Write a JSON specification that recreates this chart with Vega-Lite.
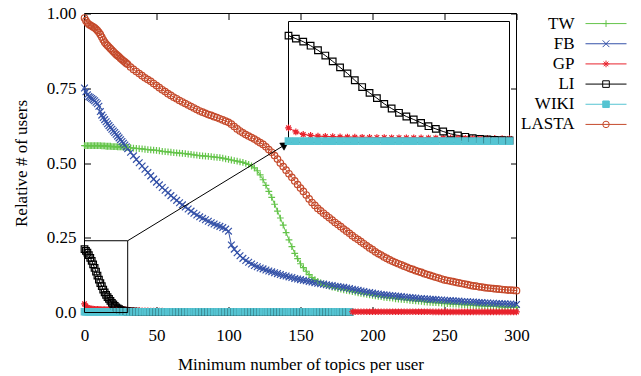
{
  "$schema": "https://vega.github.io/schema/vega-lite/v6.json",
  "padding": {"left": 12.5, "top": 4.5, "right": 0, "bottom": 0},
  "background": "white",
  "bounds": "flush",
  "config": {
    "font": "Liberation Serif",
    "view": {"stroke": null},
    "axis": {"labelFont": "Liberation Serif", "titleFont": "Liberation Serif", "labelFontSize": 17, "titleFontSize": 17, "titleFontWeight": "normal", "labelColor": "black", "titleColor": "black", "tickColor": "black", "grid": false, "domain": false, "tickSize": -6, "tickWidth": 1, "labelFlush": false},
    "concat": {"spacing": 0}
  },
  "datasets": {
    "curves": [
      {"x":0,"TW":0.558,"FB":0.751,"GP":0.029,"LI":0.212,"WIKI":0.0025,"LASTA":0.985},
      {"x":1,"TW":0.558,"FB":0.738,"GP":0.021,"LI":0.206,"WIKI":0.0025,"LASTA":0.976},
      {"x":2,"TW":0.558,"FB":0.728,"GP":0.016,"LI":0.200,"WIKI":0.0025,"LASTA":0.969},
      {"x":3,"TW":0.558,"FB":0.722,"GP":0.014,"LI":0.192,"WIKI":0.0025,"LASTA":0.964},
      {"x":4,"TW":0.558,"FB":0.719,"GP":0.0125,"LI":0.183,"WIKI":0.0025,"LASTA":0.961},
      {"x":5,"TW":0.558,"FB":0.716,"GP":0.012,"LI":0.1725,"WIKI":0.0025,"LASTA":0.958},
      {"x":6,"TW":0.558,"FB":0.712,"GP":0.0115,"LI":0.161,"WIKI":0.0025,"LASTA":0.955},
      {"x":7,"TW":0.558,"FB":0.708,"GP":0.011,"LI":0.149,"WIKI":0.0025,"LASTA":0.952},
      {"x":8,"TW":0.558,"FB":0.703,"GP":0.0108,"LI":0.137,"WIKI":0.0025,"LASTA":0.948},
      {"x":9,"TW":0.558,"FB":0.698,"GP":0.0105,"LI":0.1235,"WIKI":0.0025,"LASTA":0.943},
      {"x":10,"TW":0.558,"FB":0.690,"GP":0.0103,"LI":0.110,"WIKI":0.0025,"LASTA":0.937},
      {"x":11,"TW":0.558,"FB":0.672,"GP":0.0101,"LI":0.0985,"WIKI":0.0025,"LASTA":0.930},
      {"x":12,"TW":0.557,"FB":0.660,"GP":0.0099,"LI":0.088,"WIKI":0.0025,"LASTA":0.921},
      {"x":13,"TW":0.557,"FB":0.652,"GP":0.0097,"LI":0.0767,"WIKI":0.0025,"LASTA":0.912},
      {"x":14,"TW":0.557,"FB":0.645,"GP":0.0095,"LI":0.0674,"WIKI":0.0025,"LASTA":0.904},
      {"x":15,"TW":0.556,"FB":0.638,"GP":0.0094,"LI":0.0589,"WIKI":0.0025,"LASTA":0.898},
      {"x":16,"TW":0.556,"FB":0.631,"GP":0.0093,"LI":0.0516,"WIKI":0.0025,"LASTA":0.893},
      {"x":17,"TW":0.556,"FB":0.625,"GP":0.0092,"LI":0.0456,"WIKI":0.0025,"LASTA":0.888},
      {"x":18,"TW":0.556,"FB":0.619,"GP":0.0091,"LI":0.039,"WIKI":0.0025,"LASTA":0.883},
      {"x":19,"TW":0.555,"FB":0.613,"GP":0.009,"LI":0.0323,"WIKI":0.0025,"LASTA":0.878},
      {"x":20,"TW":0.555,"FB":0.607,"GP":0.0089,"LI":0.027,"WIKI":0.0025,"LASTA":0.873},
      {"x":21,"TW":0.555,"FB":0.602,"GP":0.0088,"LI":0.0218,"WIKI":0.0025,"LASTA":0.868},
      {"x":22,"TW":0.555,"FB":0.596,"GP":0.0087,"LI":0.0172,"WIKI":0.0025,"LASTA":0.863},
      {"x":23,"TW":0.554,"FB":0.590,"GP":0.0086,"LI":0.0139,"WIKI":0.0025,"LASTA":0.859},
      {"x":24,"TW":0.554,"FB":0.584,"GP":0.0085,"LI":0.0113,"WIKI":0.0025,"LASTA":0.855},
      {"x":25,"TW":0.554,"FB":0.578,"GP":0.0084,"LI":0.0086,"WIKI":0.0025,"LASTA":0.850},
      {"x":26,"TW":0.554,"FB":0.572,"GP":0.0083,"LI":0.0073,"WIKI":0.0025,"LASTA":0.846},
      {"x":27,"TW":0.553,"FB":0.566,"GP":0.0082,"LI":0.006,"WIKI":0.0025,"LASTA":0.842},
      {"x":28,"TW":0.553,"FB":0.560,"GP":0.0081,"LI":0.0053,"WIKI":0.0025,"LASTA":0.838},
      {"x":29,"TW":0.552,"FB":0.554,"GP":0.008,"LI":0.0046,"WIKI":0.0025,"LASTA":0.834},
      {"x":30,"TW":0.552,"FB":0.548,"GP":0.0079,"LI":0.004,"WIKI":0.0025,"LASTA":0.830},
      {"x":32,"TW":0.551,"FB":0.536,"GP":0.0075,"LI":0.0035,"WIKI":0.002,"LASTA":0.821},
      {"x":34,"TW":0.550,"FB":0.524,"GP":0.007,"LI":0.003,"WIKI":0.002,"LASTA":0.813},
      {"x":36,"TW":0.549,"FB":0.512,"GP":0.0066,"LI":0.0025,"WIKI":0.002,"LASTA":0.806},
      {"x":38,"TW":0.548,"FB":0.501,"GP":0.0062,"LI":0.002,"WIKI":0.002,"LASTA":0.799},
      {"x":40,"TW":0.547,"FB":0.490,"GP":0.0058,"LI":0.0015,"WIKI":0.002,"LASTA":0.792},
      {"x":42,"TW":0.546,"FB":0.479,"GP":0.0055,"LI":0.0015,"WIKI":0.002,"LASTA":0.785},
      {"x":44,"TW":0.545,"FB":0.468,"GP":0.0052,"LI":0.0015,"WIKI":0.002,"LASTA":0.779},
      {"x":46,"TW":0.544,"FB":0.457,"GP":0.005,"LI":0.0015,"WIKI":0.002,"LASTA":0.773},
      {"x":48,"TW":0.543,"FB":0.446,"GP":0.0048,"LI":0.0015,"WIKI":0.002,"LASTA":0.766},
      {"x":50,"TW":0.542,"FB":0.436,"GP":0.0046,"LI":0.0015,"WIKI":0.002,"LASTA":0.759},
      {"x":52,"TW":0.541,"FB":0.427,"GP":0.0045,"LI":0.001,"WIKI":0.002,"LASTA":0.752},
      {"x":54,"TW":0.539,"FB":0.418,"GP":0.0044,"LI":0.001,"WIKI":0.002,"LASTA":0.745},
      {"x":56,"TW":0.538,"FB":0.409,"GP":0.0043,"LI":0.001,"WIKI":0.002,"LASTA":0.739},
      {"x":58,"TW":0.537,"FB":0.400,"GP":0.0042,"LI":0.001,"WIKI":0.002,"LASTA":0.732},
      {"x":60,"TW":0.536,"FB":0.391,"GP":0.0041,"LI":0.001,"WIKI":0.002,"LASTA":0.726},
      {"x":62,"TW":0.535,"FB":0.383,"GP":0.004,"LI":0.001,"WIKI":0.002,"LASTA":0.720},
      {"x":64,"TW":0.534,"FB":0.375,"GP":0.004,"LI":0.001,"WIKI":0.002,"LASTA":0.715},
      {"x":66,"TW":0.533,"FB":0.367,"GP":0.004,"LI":0.001,"WIKI":0.002,"LASTA":0.709},
      {"x":68,"TW":0.532,"FB":0.360,"GP":0.004,"LI":0.001,"WIKI":0.002,"LASTA":0.704},
      {"x":70,"TW":0.531,"FB":0.353,"GP":0.004,"LI":0.001,"WIKI":0.002,"LASTA":0.699},
      {"x":72,"TW":0.530,"FB":0.346,"GP":0.004,"LI":0.001,"WIKI":0.002,"LASTA":0.694},
      {"x":74,"TW":0.529,"FB":0.339,"GP":0.004,"LI":0.001,"WIKI":0.002,"LASTA":0.689},
      {"x":76,"TW":0.527,"FB":0.332,"GP":0.004,"LI":0.001,"WIKI":0.002,"LASTA":0.684},
      {"x":78,"TW":0.526,"FB":0.326,"GP":0.004,"LI":0.001,"WIKI":0.002,"LASTA":0.679},
      {"x":80,"TW":0.525,"FB":0.320,"GP":0.004,"LI":0.001,"WIKI":0.002,"LASTA":0.674},
      {"x":82,"TW":0.524,"FB":0.315,"GP":0.0035,"LI":0.001,"WIKI":0.002,"LASTA":0.670},
      {"x":84,"TW":0.523,"FB":0.310,"GP":0.0035,"LI":0.001,"WIKI":0.002,"LASTA":0.666},
      {"x":86,"TW":0.522,"FB":0.305,"GP":0.0035,"LI":0.001,"WIKI":0.002,"LASTA":0.662},
      {"x":88,"TW":0.521,"FB":0.300,"GP":0.0035,"LI":0.001,"WIKI":0.002,"LASTA":0.659},
      {"x":90,"TW":0.520,"FB":0.296,"GP":0.0035,"LI":0.001,"WIKI":0.002,"LASTA":0.655},
      {"x":92,"TW":0.519,"FB":0.292,"GP":0.0035,"LI":0.001,"WIKI":0.002,"LASTA":0.652},
      {"x":94,"TW":0.518,"FB":0.288,"GP":0.0035,"LI":0.001,"WIKI":0.002,"LASTA":0.648},
      {"x":96,"TW":0.516,"FB":0.284,"GP":0.0035,"LI":0.001,"WIKI":0.002,"LASTA":0.644},
      {"x":98,"TW":0.514,"FB":0.279,"GP":0.0035,"LI":0.001,"WIKI":0.002,"LASTA":0.640},
      {"x":100,"TW":0.512,"FB":0.272,"GP":0.0035,"LI":0.001,"WIKI":0.002,"LASTA":0.636},
      {"x":102,"TW":0.510,"FB":0.226,"GP":0.0035,"LI":0.001,"WIKI":0.002,"LASTA":0.630},
      {"x":104,"TW":0.508,"FB":0.212,"GP":0.0035,"LI":0.001,"WIKI":0.002,"LASTA":0.622},
      {"x":106,"TW":0.506,"FB":0.200,"GP":0.0035,"LI":0.001,"WIKI":0.002,"LASTA":0.614},
      {"x":108,"TW":0.504,"FB":0.190,"GP":0.0035,"LI":0.001,"WIKI":0.002,"LASTA":0.607},
      {"x":110,"TW":0.502,"FB":0.181,"GP":0.0035,"LI":0.001,"WIKI":0.002,"LASTA":0.601},
      {"x":112,"TW":0.499,"FB":0.174,"GP":0.0035,"LI":0.001,"WIKI":0.002,"LASTA":0.595},
      {"x":114,"TW":0.495,"FB":0.168,"GP":0.0035,"LI":0.001,"WIKI":0.002,"LASTA":0.590},
      {"x":116,"TW":0.490,"FB":0.162,"GP":0.0035,"LI":0.001,"WIKI":0.002,"LASTA":0.585},
      {"x":118,"TW":0.484,"FB":0.157,"GP":0.0035,"LI":0.001,"WIKI":0.002,"LASTA":0.580},
      {"x":120,"TW":0.474,"FB":0.153,"GP":0.0035,"LI":0.001,"WIKI":0.002,"LASTA":0.574},
      {"x":122,"TW":0.460,"FB":0.149,"GP":0.003,"LI":0.001,"WIKI":0.002,"LASTA":0.568},
      {"x":124,"TW":0.444,"FB":0.146,"GP":0.003,"LI":0.001,"WIKI":0.002,"LASTA":0.562},
      {"x":126,"TW":0.425,"FB":0.142,"GP":0.003,"LI":0.001,"WIKI":0.002,"LASTA":0.554},
      {"x":128,"TW":0.405,"FB":0.139,"GP":0.003,"LI":0.001,"WIKI":0.002,"LASTA":0.545},
      {"x":130,"TW":0.385,"FB":0.136,"GP":0.003,"LI":0.001,"WIKI":0.002,"LASTA":0.536},
      {"x":132,"TW":0.362,"FB":0.133,"GP":0.003,"LI":0.001,"WIKI":0.002,"LASTA":0.525},
      {"x":134,"TW":0.339,"FB":0.130,"GP":0.003,"LI":0.001,"WIKI":0.002,"LASTA":0.513},
      {"x":136,"TW":0.316,"FB":0.127,"GP":0.003,"LI":0.001,"WIKI":0.002,"LASTA":0.500},
      {"x":138,"TW":0.292,"FB":0.124,"GP":0.003,"LI":0.001,"WIKI":0.002,"LASTA":0.488},
      {"x":140,"TW":0.267,"FB":0.122,"GP":0.003,"LI":0.001,"WIKI":0.002,"LASTA":0.476},
      {"x":142,"TW":0.243,"FB":0.119,"GP":0.003,"LI":0.001,"WIKI":0.002,"LASTA":0.464},
      {"x":144,"TW":0.220,"FB":0.117,"GP":0.003,"LI":0.001,"WIKI":0.002,"LASTA":0.452},
      {"x":146,"TW":0.198,"FB":0.114,"GP":0.003,"LI":0.001,"WIKI":0.002,"LASTA":0.440},
      {"x":148,"TW":0.180,"FB":0.112,"GP":0.003,"LI":0.001,"WIKI":0.002,"LASTA":0.428},
      {"x":150,"TW":0.163,"FB":0.110,"GP":0.003,"LI":0.001,"WIKI":0.002,"LASTA":0.416},
      {"x":152,"TW":0.150,"FB":0.108,"GP":0.003,"LI":0.001,"WIKI":0.002,"LASTA":0.405},
      {"x":154,"TW":0.138,"FB":0.106,"GP":0.003,"LI":0.001,"WIKI":0.002,"LASTA":0.393},
      {"x":156,"TW":0.127,"FB":0.104,"GP":0.003,"LI":0.001,"WIKI":0.002,"LASTA":0.380},
      {"x":158,"TW":0.117,"FB":0.102,"GP":0.003,"LI":0.001,"WIKI":0.002,"LASTA":0.368},
      {"x":160,"TW":0.110,"FB":0.100,"GP":0.003,"LI":0.001,"WIKI":0.002,"LASTA":0.358},
      {"x":162,"TW":0.104,"FB":0.098,"GP":0.003,"LI":0.001,"WIKI":0.002,"LASTA":0.348},
      {"x":164,"TW":0.099,"FB":0.096,"GP":0.003,"LI":0.001,"WIKI":0.002,"LASTA":0.340},
      {"x":166,"TW":0.095,"FB":0.095,"GP":0.003,"LI":0.001,"WIKI":0.002,"LASTA":0.332},
      {"x":168,"TW":0.091,"FB":0.093,"GP":0.003,"LI":0.001,"WIKI":0.002,"LASTA":0.324},
      {"x":170,"TW":0.088,"FB":0.091,"GP":0.003,"LI":0.001,"WIKI":0.002,"LASTA":0.317},
      {"x":172,"TW":0.085,"FB":0.090,"GP":0.003,"LI":0.001,"WIKI":0.002,"LASTA":0.309},
      {"x":174,"TW":0.083,"FB":0.088,"GP":0.003,"LI":0.001,"WIKI":0.002,"LASTA":0.301},
      {"x":176,"TW":0.080,"FB":0.087,"GP":0.003,"LI":0.001,"WIKI":0.002,"LASTA":0.294},
      {"x":178,"TW":0.078,"FB":0.085,"GP":0.003,"LI":0.001,"WIKI":0.002,"LASTA":0.287},
      {"x":180,"TW":0.076,"FB":0.084,"GP":0.003,"LI":0.001,"WIKI":0.002,"LASTA":0.279},
      {"x":182,"TW":0.074,"FB":0.082,"GP":0.0025,"LI":0.001,"WIKI":0.002,"LASTA":0.272},
      {"x":184,"TW":0.072,"FB":0.080,"GP":0.0025,"LI":0.001,"WIKI":0.002,"LASTA":0.265},
      {"x":186,"TW":0.070,"FB":0.078,"GP":0.0025,"LASTA":0.257},
      {"x":188,"TW":0.068,"FB":0.076,"GP":0.0025,"LASTA":0.250},
      {"x":190,"TW":0.066,"FB":0.074,"GP":0.0025,"LASTA":0.244},
      {"x":192,"TW":0.064,"FB":0.072,"GP":0.0025,"LASTA":0.237},
      {"x":194,"TW":0.062,"FB":0.070,"GP":0.0025,"LASTA":0.230},
      {"x":196,"TW":0.061,"FB":0.068,"GP":0.0025,"LASTA":0.223},
      {"x":198,"TW":0.059,"FB":0.067,"GP":0.0025,"LASTA":0.216},
      {"x":200,"TW":0.057,"FB":0.065,"GP":0.0025,"LASTA":0.210},
      {"x":202,"TW":0.056,"FB":0.063,"GP":0.0025,"LASTA":0.203},
      {"x":204,"TW":0.054,"FB":0.062,"GP":0.0025,"LASTA":0.197},
      {"x":206,"TW":0.053,"FB":0.060,"GP":0.0025,"LASTA":0.192},
      {"x":208,"TW":0.051,"FB":0.059,"GP":0.0025,"LASTA":0.186},
      {"x":210,"TW":0.050,"FB":0.058,"GP":0.0025,"LASTA":0.181},
      {"x":212,"TW":0.049,"FB":0.057,"GP":0.0025,"LASTA":0.176},
      {"x":214,"TW":0.048,"FB":0.056,"GP":0.0025,"LASTA":0.171},
      {"x":216,"TW":0.046,"FB":0.055,"GP":0.0025,"LASTA":0.167},
      {"x":218,"TW":0.045,"FB":0.054,"GP":0.0025,"LASTA":0.163},
      {"x":220,"TW":0.044,"FB":0.053,"GP":0.0025,"LASTA":0.159},
      {"x":222,"TW":0.043,"FB":0.052,"GP":0.0025,"LASTA":0.155},
      {"x":224,"TW":0.042,"FB":0.051,"GP":0.0025,"LASTA":0.151},
      {"x":226,"TW":0.041,"FB":0.050,"GP":0.0025,"LASTA":0.147},
      {"x":228,"TW":0.040,"FB":0.049,"GP":0.0025,"LASTA":0.144},
      {"x":230,"TW":0.039,"FB":0.048,"GP":0.0025,"LASTA":0.140},
      {"x":232,"TW":0.038,"FB":0.047,"GP":0.0025,"LASTA":0.137},
      {"x":234,"TW":0.037,"FB":0.047,"GP":0.0025,"LASTA":0.134},
      {"x":236,"TW":0.036,"FB":0.046,"GP":0.0025,"LASTA":0.130},
      {"x":238,"TW":0.035,"FB":0.045,"GP":0.0025,"LASTA":0.127},
      {"x":240,"TW":0.034,"FB":0.044,"GP":0.0025,"LASTA":0.124},
      {"x":242,"TW":0.033,"FB":0.044,"GP":0.002,"LASTA":0.121},
      {"x":244,"TW":0.033,"FB":0.043,"GP":0.002,"LASTA":0.118},
      {"x":246,"TW":0.032,"FB":0.042,"GP":0.002,"LASTA":0.115},
      {"x":248,"TW":0.031,"FB":0.042,"GP":0.002,"LASTA":0.112},
      {"x":250,"TW":0.030,"FB":0.041,"GP":0.002,"LASTA":0.109},
      {"x":252,"TW":0.030,"FB":0.040,"GP":0.002,"LASTA":0.107},
      {"x":254,"TW":0.029,"FB":0.040,"GP":0.002,"LASTA":0.105},
      {"x":256,"TW":0.028,"FB":0.039,"GP":0.002,"LASTA":0.103},
      {"x":258,"TW":0.028,"FB":0.038,"GP":0.002,"LASTA":0.101},
      {"x":260,"TW":0.027,"FB":0.038,"GP":0.002,"LASTA":0.099},
      {"x":262,"TW":0.026,"FB":0.037,"GP":0.002,"LASTA":0.097},
      {"x":264,"TW":0.026,"FB":0.036,"GP":0.002,"LASTA":0.095},
      {"x":266,"TW":0.025,"FB":0.036,"GP":0.002,"LASTA":0.093},
      {"x":268,"TW":0.025,"FB":0.035,"GP":0.002,"LASTA":0.091},
      {"x":270,"TW":0.024,"FB":0.035,"GP":0.002,"LASTA":0.089},
      {"x":272,"TW":0.023,"FB":0.034,"GP":0.002,"LASTA":0.088},
      {"x":274,"TW":0.023,"FB":0.033,"GP":0.002,"LASTA":0.086},
      {"x":276,"TW":0.022,"FB":0.033,"GP":0.002,"LASTA":0.085},
      {"x":278,"TW":0.022,"FB":0.032,"GP":0.002,"LASTA":0.083},
      {"x":280,"TW":0.021,"FB":0.032,"GP":0.002,"LASTA":0.082},
      {"x":282,"TW":0.021,"FB":0.031,"GP":0.002,"LASTA":0.081},
      {"x":284,"TW":0.020,"FB":0.031,"GP":0.002,"LASTA":0.080},
      {"x":286,"TW":0.020,"FB":0.030,"GP":0.002,"LASTA":0.079},
      {"x":288,"TW":0.019,"FB":0.030,"GP":0.002,"LASTA":0.078},
      {"x":290,"TW":0.019,"FB":0.029,"GP":0.002,"LASTA":0.077},
      {"x":292,"TW":0.018,"FB":0.029,"GP":0.002,"LASTA":0.076},
      {"x":294,"TW":0.018,"FB":0.028,"GP":0.002,"LASTA":0.075},
      {"x":296,"TW":0.018,"FB":0.028,"GP":0.002,"LASTA":0.075},
      {"x":298,"TW":0.017,"FB":0.027,"GP":0.002,"LASTA":0.074},
      {"x":300,"TW":0.017,"FB":0.027,"GP":0.002,"LASTA":0.073}
    ],
    "series": [
      {"key": "TW"}, {"key": "FB"}, {"key": "GP"}, {"key": "LI"}, {"key": "WIKI"}, {"key": "LASTA"}
    ]
  },
  "hconcat": [
    {
      "width": 432,
      "height": 299,
      "layer": [
        {
          "layer": [
            {
              "data": {"values": [{}]},
              "mark": {"type": "rect", "fill": "transparent", "stroke": "black", "strokeWidth": 1},
              "encoding": {
                "x": {"datum": 0, "type": "quantitative", "scale": {"domain": [0, 300], "nice": false, "zero": false}, "axis": {"orient": "top", "values": [0, 50, 100, 150, 200, 250, 300], "labels": false, "title": null}},
                "x2": {"datum": 300},
                "y": {"datum": 0, "type": "quantitative", "scale": {"domain": [0, 1], "nice": false}, "axis": {"orient": "right", "values": [0, 0.25, 0.5, 0.75, 1], "labels": false, "title": null}},
                "y2": {"datum": 1}
              }
            },
            {
              "data": {"name": "curves"},
              "transform": [
                {"fold": ["TW", "FB", "GP", "LI", "WIKI", "LASTA"], "as": ["key", "value"]},
                {"filter": "isValid(datum.value)"}
              ],
              "encoding": {
                "x": {"field": "x", "type": "quantitative", "scale": {"domain": [0, 300], "nice": false, "zero": false},
                      "axis": {"orient": "bottom", "values": [0, 50, 100, 150, 200, 250, 300], "format": "d", "labelPadding": 21, "title": "Minimum number of topics per user", "titlePadding": 13}},
                "y": {"field": "value", "type": "quantitative", "scale": {"domain": [0, 1], "nice": false},
                      "axis": {"orient": "left", "values": [0, 0.25, 0.5, 0.75, 1], "labelExpr": "datum.value == 0 ? '0.0' : format(datum.value, '.2f')", "labelPadding": 14.5, "title": "Relative # of users", "titlePadding": 15.5}}
              },
              "layer": [
                {
                  "mark": {"type": "line", "strokeWidth": 1},
                  "encoding": {
                    "stroke": {"field": "key", "type": "nominal", "scale": {"domain": ["TW", "FB", "GP", "LI", "WIKI", "LASTA"], "range": ["#64c44a", "#3552a8", "#e8232d", "#000000", "#55c4d2", "#c54a2b"]}, "legend": null}
                  }
                },
                {
                  "mark": {"type": "point", "filled": true, "strokeWidth": 1.2, "opacity": 1},
                  "encoding": {
                    "shape": {"field": "key", "type": "nominal", "scale": {"domain": ["TW", "FB", "GP", "LI", "WIKI", "LASTA"], "range": ["M-1,0L1,0M0,-1L0,1", "M-1,-1L1,1M-1,1L1,-1", "M-1,0L1,0M0,-1L0,1M-0.7,-0.7L0.7,0.7M-0.7,0.7L0.7,-0.7", "square", "square", "circle"]}, "legend": null},
                    "stroke": {"field": "key", "type": "nominal", "scale": {"domain": ["TW", "FB", "GP", "LI", "WIKI", "LASTA"], "range": ["#64c44a", "#3552a8", "#e8232d", "#000000", "#55c4d2", "#c54a2b"]}, "legend": null},
                    "fill": {"field": "key", "type": "nominal", "scale": {"domain": ["TW", "FB", "GP", "LI", "WIKI", "LASTA"], "range": ["transparent", "transparent", "transparent", "transparent", "#55c4d2", "transparent"]}, "legend": null},
                    "size": {"field": "key", "type": "nominal", "scale": {"domain": ["TW", "FB", "GP", "LI", "WIKI", "LASTA"], "range": [46, 42, 55, 30, 42, 36]}, "legend": null}
                  }
                }
              ]
            },
            {
              "data": {"values": [{}]},
              "mark": {"type": "rect", "fill": "transparent", "stroke": "black", "strokeWidth": 1},
              "encoding": {
                "x": {"datum": 0, "type": "quantitative", "axis": null},
                "x2": {"datum": 30},
                "y": {"datum": 0, "type": "quantitative", "axis": null},
                "y2": {"datum": 0.24}
              }
            },
            {
              "data": {"values": [{}]},
              "mark": {"type": "rule", "stroke": "black", "strokeWidth": 1},
              "encoding": {
                "x": {"datum": 30, "type": "quantitative", "axis": null},
                "x2": {"datum": 139.2},
                "y": {"datum": 0.24, "type": "quantitative", "axis": null},
                "y2": {"datum": 0.561}
              }
            },
            {
              "data": {"values": [{}]},
              "mark": {"type": "point", "shape": "triangle-right", "filled": true, "fill": "black", "stroke": "black", "strokeWidth": 0.5, "size": 70, "angle": -31.4, "opacity": 1},
              "encoding": {
                "x": {"datum": 139.2, "type": "quantitative", "axis": null},
                "y": {"datum": 0.561, "type": "quantitative", "axis": null}
              }
            }
          ],
          "resolve": {"axis": {"x": "independent", "y": "independent"}}
        },
        {
          "layer": [
            {
              "data": {"values": [{}]},
              "mark": {"type": "rect", "fill": "white", "stroke": "black", "strokeWidth": 1},
              "encoding": {
                "x": {"datum": 0, "type": "quantitative", "scale": {"domain": [0, 30], "range": [204, 425], "nice": false, "zero": false}, "axis": null},
                "x2": {"datum": 30},
                "y": {"datum": 0, "type": "quantitative", "scale": {"domain": [0, 0.24], "range": [129, 8], "nice": false, "zero": false}, "axis": null},
                "y2": {"datum": 0.24}
              }
            },
            {
              "data": {"name": "curves"},
              "transform": [
                {"fold": ["GP", "LI", "WIKI"], "as": ["key", "value"]},
                {"filter": "isValid(datum.value) && datum.x <= 30"}
              ],
              "encoding": {
                "x": {"field": "x", "type": "quantitative", "scale": {"domain": [0, 30], "range": [204, 425], "nice": false, "zero": false}, "axis": null},
                "y": {"field": "value", "type": "quantitative", "scale": {"domain": [0, 0.24], "range": [129, 8], "nice": false, "zero": false}, "axis": null}
              },
              "layer": [
                {
                  "mark": {"type": "line", "strokeWidth": 1},
                  "encoding": {
                    "stroke": {"field": "key", "type": "nominal", "legend": null}
                  }
                },
                {
                  "mark": {"type": "point", "filled": true, "strokeWidth": 1.2, "opacity": 1},
                  "encoding": {
                    "shape": {"field": "key", "type": "nominal", "legend": null},
                    "stroke": {"field": "key", "type": "nominal", "legend": null},
                    "fill": {"field": "key", "type": "nominal", "legend": null},
                    "size": {"field": "key", "type": "nominal", "legend": null}
                  }
                }
              ]
            }
          ]
        }
      ],
      "resolve": {"scale": {"x": "independent", "y": "independent"}}
    },
    {
      "width": 120,
      "height": 121,
      "data": {"name": "series"},
      "encoding": {
        "y": {"field": "key", "type": "nominal", "scale": {"domain": ["TW", "FB", "GP", "LI", "WIKI", "LASTA"]}, "axis": null}
      },
      "layer": [
        {
          "mark": {"type": "text", "align": "right", "baseline": "middle", "fontSize": 17, "font": "Liberation Serif", "color": "black"},
          "encoding": {
            "x": {"datum": 0.4833, "type": "quantitative", "scale": {"domain": [0, 1], "nice": false, "zero": false}, "axis": null},
            "text": {"field": "key"}
          }
        },
        {
          "mark": {"type": "rule", "strokeWidth": 1},
          "encoding": {
            "x": {"datum": 0.575, "type": "quantitative", "axis": null},
            "x2": {"datum": 0.9167},
            "stroke": {"field": "key", "type": "nominal", "scale": {"domain": ["TW", "FB", "GP", "LI", "WIKI", "LASTA"], "range": ["#64c44a", "#3552a8", "#e8232d", "#000000", "#55c4d2", "#c54a2b"]}, "legend": null}
          }
        },
        {
          "mark": {"type": "point", "filled": true, "strokeWidth": 1, "opacity": 1},
          "encoding": {
            "x": {"datum": 0.746, "type": "quantitative", "axis": null},
            "shape": {"field": "key", "type": "nominal", "scale": {"domain": ["TW", "FB", "GP", "LI", "WIKI", "LASTA"], "range": ["M-1,0L1,0M0,-1L0,1", "M-1,-1L1,1M-1,1L1,-1", "M-1,0L1,0M0,-1L0,1M-0.7,-0.7L0.7,0.7M-0.7,0.7L0.7,-0.7", "square", "square", "circle"]}, "legend": null},
            "stroke": {"field": "key", "type": "nominal", "scale": {"domain": ["TW", "FB", "GP", "LI", "WIKI", "LASTA"], "range": ["#64c44a", "#3552a8", "#e8232d", "#000000", "#55c4d2", "#c54a2b"]}, "legend": null},
            "fill": {"field": "key", "type": "nominal", "scale": {"domain": ["TW", "FB", "GP", "LI", "WIKI", "LASTA"], "range": ["transparent", "transparent", "transparent", "transparent", "#55c4d2", "transparent"]}, "legend": null},
            "size": {"field": "key", "type": "nominal", "scale": {"domain": ["TW", "FB", "GP", "LI", "WIKI", "LASTA"], "range": [46, 42, 55, 30, 42, 36]}, "legend": null}
          }
        }
      ]
    }
  ]
}
